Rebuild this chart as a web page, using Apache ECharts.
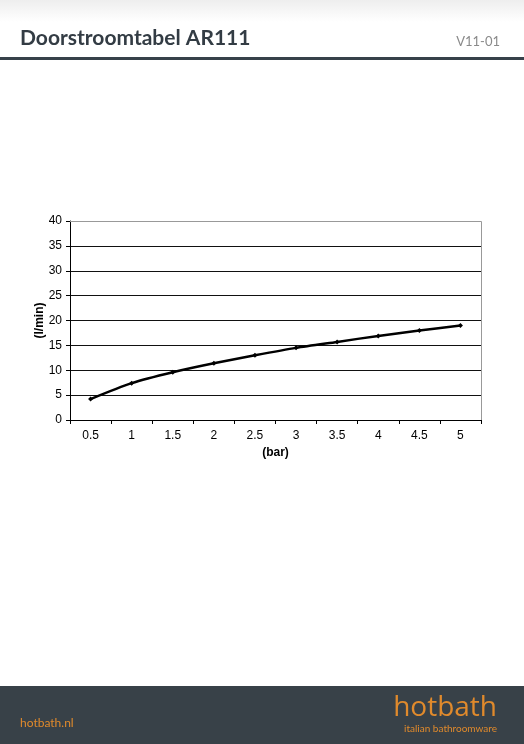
<!DOCTYPE html>
<html>
<head>
<meta charset="utf-8">
<script src="https://cdn.jsdelivr.net/npm/echarts@6/dist/echarts.min.js"></script>
<style>
html,body{margin:0;padding:0;background:#fff;}
#c{width:524px;height:744px;}
</style>
</head>
<body>
<div id="c"></div>
<script>
var categories = ['0.5','1','1.5','2','2.5','3','3.5','4','4.5','5'];
var flowValues = [4.2, 7.4, 9.6, 11.4, 13.0, 14.5, 15.7, 16.9, 18.0, 19.0];
var yTicks = { min: 0, max: 40, interval: 5 };

var chart = echarts.init(document.getElementById('c'), null, {renderer: 'canvas'});
var option = {
  backgroundColor: '#ffffff',
  animation: false,
  grid: { left: 70, right: 43, top: 221, bottom: 324, containLabel: false },
  xAxis: {
    type: 'category',
    data: categories,
    boundaryGap: true,
    axisLine: { lineStyle: { color: '#000', width: 1 } },
    axisTick: { show: true, length: 4, lineStyle: { color: '#000' } },
    axisLabel: { color: '#000', fontFamily: 'Liberation Sans', fontSize: 12, margin: 10 },
    name: '(bar)', nameLocation: 'middle', nameGap: 27,
    nameTextStyle: { fontFamily: 'Liberation Sans', fontSize: 12, fontWeight: 'bold', color: '#000' },
    splitLine: { show: false }
  },
  yAxis: {
    type: 'value',
    min: yTicks.min, max: yTicks.max, interval: yTicks.interval,
    axisLine: { show: true, lineStyle: { color: '#000', width: 1 } },
    axisTick: { show: true, length: 4, lineStyle: { color: '#000' } },
    axisLabel: { color: '#000', fontFamily: 'Liberation Sans', fontSize: 12, margin: 8 },
    name: '(l/min)', nameLocation: 'middle', nameGap: 24, nameRotate: 90,
    nameMoveOverlap: false,
    nameTextStyle: { fontFamily: 'Liberation Sans', fontSize: 12, fontWeight: 'bold', color: '#000' },
    splitLine: { show: true, lineStyle: { color: '#111', width: 1 } }
  },
  series: [{
    type: 'line',
    data: flowValues,
    symbol: 'diamond', symbolSize: 5,
    itemStyle: { color: '#000' },
    lineStyle: { color: '#000', width: 2.5 },
    smooth: 0.25
  }],
  graphic: [
    { type: 'rect', shape: { x: 0, y: 0, width: 524, height: 22 }, style: { fill: new echarts.graphic.LinearGradient(0,0,0,1,[{offset:0,color:'#eeeeee'},{offset:1,color:'#ffffff'}]) }, silent: true },
    { type: 'text', left: 20, top: 28, style: { text: 'Doorstroomtabel AR111', fontFamily: 'Lato', fontWeight: 'bold', fontSize: 21, fill: '#333c44' } },
    { type: 'text', right: 24, top: 35, style: { text: 'V11-01', fontFamily: 'Lato', fontSize: 13, fill: '#8a8a8a' } },
    { type: 'rect', shape: { x: 0, y: 57, width: 524, height: 3 }, style: { fill: '#37414a' } },
    { type: 'polyline', shape: { points: [[70, 221.5],[481.5, 221.5],[481.5, 420]] }, style: { stroke: '#999', lineWidth: 1, fill: null }, z: 5 },
    { type: 'rect', shape: { x: 0, y: 686, width: 524, height: 58 }, style: { fill: '#384148' } },
    { type: 'text', left: 20, top: 717, style: { text: 'hotbath.nl', fontFamily: 'Lato', fontSize: 12, fill: '#e08a2c' } },
    { type: 'text', right: 27, top: 694, style: { text: 'hotbath', fontFamily: 'Open Sans', fontSize: 28, fill: '#e08a2c' } },
    { type: 'text', right: 27, top: 724, style: { text: 'italian bathroomware', fontFamily: 'Lato', fontSize: 10, fill: '#e08a2c' } }
  ]
};
chart.setOption(option);
</script>
</body>
</html>
